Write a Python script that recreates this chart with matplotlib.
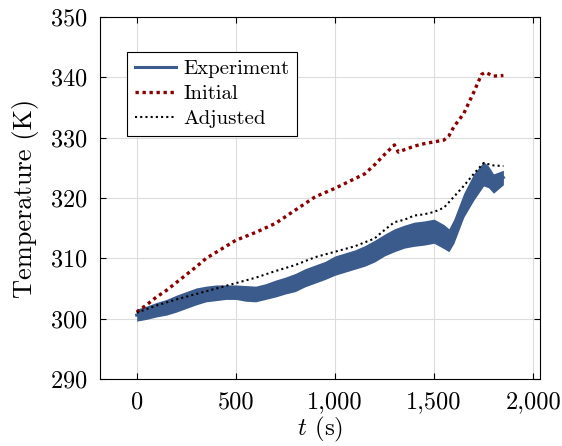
import matplotlib
matplotlib.use("Agg")
import matplotlib.pyplot as plt

plt.rcParams['font.family'] = ['cmr10', 'DejaVu Serif']
plt.rcParams['mathtext.fontset'] = 'cm'
plt.rcParams['axes.formatter.use_mathtext'] = True

# Experiment: centre of the noisy band and its half width
t_exp = [0, 50, 100, 150, 200, 250, 300, 350, 400, 450, 500, 550, 600, 650, 700,
         750, 800, 850, 900, 950, 1000, 1050, 1100, 1150, 1200, 1250, 1300, 1350,
         1400, 1450, 1500, 1550, 1575, 1600, 1650, 1700, 1750, 1775, 1800, 1850]
T_exp = [300.6, 301.0, 301.5, 301.9, 302.5, 303.1, 303.7, 304.1, 304.3, 304.4,
         304.4, 304.2, 304.1, 304.5, 305.0, 305.5, 306.0, 306.8, 307.4, 308.0,
         308.8, 309.3, 309.8, 310.4, 311.2, 312.2, 313.0, 313.6, 314.0, 314.2,
         314.5, 313.6, 313.0, 314.5, 318.8, 321.8, 324.0, 323.5, 322.4, 323.4]
hw_exp = [1.0, 1.1, 1.2, 1.3, 1.4, 1.4, 1.4, 1.3, 1.3, 1.2, 1.2, 1.3, 1.3, 1.3, 1.4,
          1.4, 1.5, 1.5, 1.5, 1.5, 1.6, 1.6, 1.6, 1.7, 1.8, 1.8, 1.9, 1.9, 2.0, 2.0,
          2.0, 2.0, 1.9, 2.0, 2.0, 2.2, 2.0, 1.8, 1.6, 1.2]

t_ini = [0, 50, 100, 150, 200, 250, 300, 350, 400, 450, 500, 600, 700, 800, 900,
         1000, 1100, 1150, 1200, 1250, 1300, 1320, 1350, 1400, 1450, 1500, 1550,
         1575, 1600, 1650, 1700, 1740, 1760, 1800, 1850]
T_ini = [301.1, 302.3, 303.6, 304.7, 306.0, 307.3, 308.6, 310.0, 311.0, 312.0,
         313.0, 314.3, 315.8, 318.0, 320.2, 321.6, 323.2, 324.0, 325.5, 327.2,
         328.8, 327.6, 328.0, 328.6, 329.0, 329.3, 329.6, 330.3, 331.8, 334.0,
         337.5, 340.5, 340.8, 340.2, 340.3]

t_adj = [0, 100, 200, 300, 400, 500, 600, 700, 800, 900, 1000, 1100, 1200, 1250,
         1300, 1350, 1400, 1450, 1500, 1550, 1600, 1650, 1700, 1750, 1800, 1850]
T_adj = [301.0, 302.2, 303.2, 304.1, 305.0, 305.9, 306.8, 307.9, 308.9, 310.2,
         311.1, 312.0, 313.3, 314.7, 316.0, 316.4, 317.1, 317.3, 317.7, 318.4,
         320.2, 322.0, 324.0, 325.8, 325.4, 325.3]

xticks = [0, 500, 1000, 1500, 2000]
xtick_labels = ['0', '500', '1,000', '1,500', '2,000']
yticks = [290, 300, 310, 320, 330, 340, 350]

blue = '#3b5b8c'
dred = '#8b0000'

fig = plt.figure(figsize=(5.62, 4.46), dpi=100)
ax = fig.add_axes([0.178, 0.150, 0.783, 0.812])

lo = [c - h for c, h in zip(T_exp, hw_exp)]
hi = [c + h for c, h in zip(T_exp, hw_exp)]
ax.fill_between(t_exp, lo, hi, color=blue, lw=0, zorder=2)
ax.plot(t_exp, T_exp, color=blue, lw=2.2, label='Experiment', zorder=2)
ax.plot(t_ini, T_ini, color=dred, lw=2.4, ls=(0, (1, 1.1)), label='Initial', zorder=3)
ax.plot(t_adj, T_adj, color='black', lw=1.5, ls=(0, (1, 1.5)), label='Adjusted', zorder=3)

ax.set_xlim(-185, 2035)
ax.set_ylim(290, 350)
ax.set_xticks(xticks)
ax.set_xticklabels(xtick_labels)
ax.set_yticks(yticks)
ax.tick_params(direction='in', top=True, right=True, length=4, labelsize=17.5, pad=9)
ax.grid(True, color='#dcdcdc', lw=0.8)
ax.set_axisbelow(True)

ax.set_xlabel('$t$ (s)', fontsize=18, labelpad=1)
ax.set_ylabel('Temperature (K)', fontsize=19, labelpad=8)

leg = ax.legend(loc='upper left', bbox_to_anchor=(0.062, 0.903), fontsize=15,
                frameon=True, fancybox=False, edgecolor='black', framealpha=1,
                handlelength=2.0, handletextpad=0.35, labelspacing=0.32,
                borderpad=0.35, borderaxespad=0)
leg.get_frame().set_linewidth(0.8)

fig.savefig('out.png', dpi=100)
